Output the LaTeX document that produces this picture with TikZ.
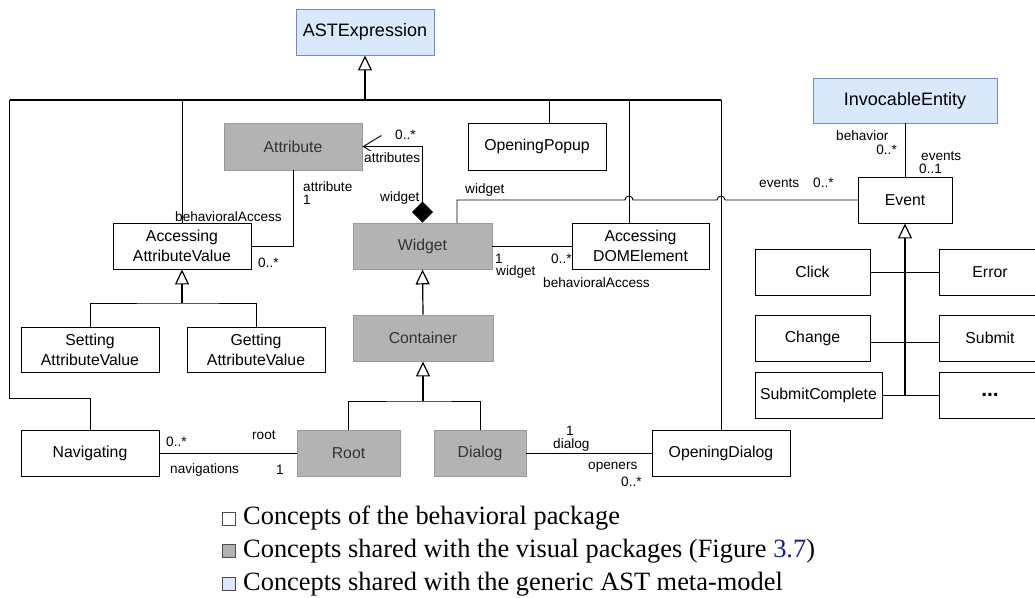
\documentclass[tikz,border=0pt]{standalone}
\usepackage{fontspec}
\setmainfont{Liberation Serif}
\newfontfamily\arialf{Liberation Sans}
\usetikzlibrary{arrows.meta}
\definecolor{bluefill}{HTML}{DAE8FC}
\definecolor{blueline}{HTML}{6C8EBF}
\definecolor{grayfill}{HTML}{B3B3B3}
\definecolor{grayline}{HTML}{999999}
\definecolor{graytext}{HTML}{333333}
\definecolor{linkblue}{HTML}{1A1A8C}
\begin{document}
\begin{tikzpicture}[x=1pt,y=-1pt,
  cls/.style={draw=black, fill=white, line width=0.9pt, inner sep=0pt, align=center,
    font=\arialf\fontsize{15.8}{20}\selectfont, minimum width=138pt, minimum height=46pt},
  shared/.style={cls, fill=grayfill, draw=grayline, text=graytext},
  astcls/.style={cls, fill=bluefill, draw=blueline, font=\arialf\fontsize{18}{21}\selectfont},
  lbl/.style={inner sep=0pt, font=\arialf\fontsize{13.6}{15}\selectfont},
  conn/.style={line width=0.9pt},
  gen/.style={line width=1.2pt, -{Triangle[length=15pt,width=14pt,fill=white,line width=1.2pt]}},
  legbox/.style={minimum size=13pt, inner sep=0pt, line width=0.8pt},
  legtxt/.style={anchor=base west, inner sep=0pt, font=\fontsize{26.4}{30}\selectfont},
]
\useasboundingbox[fill=white] (0,0) rectangle (1035,597);

% ---------- classes ----------
\node[astcls] (ast) at (365,32) {ASTExpression};
\node[astcls, minimum width=184pt, minimum height=45pt] (inv) at (905,100.5) {InvocableEntity};
\node[shared, minimum height=47pt] (attr) at (293,146.5) {Attribute};
\node[cls, minimum height=47pt] (op) at (537,146.5) {OpeningPopup};
\node[cls] (aav) at (182,246) {Accessing\\AttributeValue};
\node[shared, minimum width=139pt] (widget) at (422.5,246) {Widget};
\node[cls, minimum width=137pt] (adom) at (640.5,246) {Accessing\\DOMElement};
\node[cls, minimum width=94pt] (event) at (905,200) {Event};
\node[cls, minimum width=115pt] (click) at (812.5,272) {Click};
\node[cls, minimum width=102pt] (error) at (990,272) {Error};
\node[cls, minimum width=115pt] (change) at (812.5,338) {Change};
\node[cls, minimum width=102pt] (submit) at (990,338) {Submit};
\node[cls, minimum width=127pt] (sc) at (818.5,395) {SubmitComplete};
\node[cls, minimum width=102pt, font=\arialf\bfseries\fontsize{21}{22}\selectfont] (dots) at (990,395) {...};
\node[cls, minimum height=45pt] (set) at (90,349.5) {Setting\\AttributeValue};
\node[cls, minimum height=45pt] (get) at (256,349.5) {Getting\\AttributeValue};
\node[shared, minimum width=140pt] (cont) at (423,338) {Container};
\node[cls] (nav) at (90,453) {Navigating};
\node[shared, minimum width=103pt] (root) at (348.5,453) {Root};
\node[shared, minimum width=92pt] (dlg) at (480,453) {Dialog};
\node[cls] (od) at (721,453) {OpeningDialog};

% ---------- junction points ----------
\coordinate (bL) at (9.5,100);
\coordinate (bR) at (721,100);
\coordinate (bAST) at (365,100);
\coordinate (bAAV) at (182,100);
\coordinate (bOP) at (549,100);
\coordinate (bAD) at (629,100);
\coordinate (bNav) at (9.5,398);
\coordinate (aavbus) at (182,303);
\coordinate (cbus) at (423,401);
\coordinate (wtop) at (457,223);

% ---------- generalization to ASTExpression ----------
\draw[conn, line width=1.1pt] (bL) -- (bR);
\draw[gen] (bAST) -- (ast.south);
\draw[conn] (bL) -- (bNav) -| (nav.north);
\draw[conn] (bAAV) -- (aav.north);
\draw[conn] (bOP) -- (op.north -| bOP);
\draw[conn] (bAD) -- (adom.north -| bAD);
\draw[conn] (bR) -- (od.north);

% ---------- other generalizations ----------
\draw[gen] (aavbus) -- (aav.south);
\draw[conn] (set.north) |- (aavbus) -| (get.north);
\draw[gen] (cont.north) -- (widget.south);
\draw[gen] (cbus) -- (cont.south);
\draw[conn] (root.north) |- (cbus) -| (dlg.north);
\draw[conn] (click.east) -- (error.west);
\draw[conn] ([yshift=-4pt]change.east) -- ([yshift=-4pt]submit.west);
\draw[conn] (sc.east) -- (dots.west);
\draw[gen, line width=1.6pt] (sc.east -| event.south) -- (event.south);

% ---------- associations ----------
\draw[conn, {Diamond[length=21pt,width=21pt]}-{Straight Barb[length=18pt,width=22pt]}]
  (widget.north) |- (attr.east);
\draw[conn] (attr.south) |- (aav.east);
\draw[conn] (widget.east) -- (adom.west);
\draw[conn] (wtop) -- (457,200) -- (625,200) arc[start angle=180,end angle=360,radius=4]
  -- (717,200) arc[start angle=180,end angle=360,radius=4] -- (event.west);
\draw[conn] (inv.south) -- (event.north);
\draw[conn] (nav.east) -- (root.west);
\draw[conn] (dlg.east) -- (od.west);

% ---------- labels ----------
\node[lbl, anchor=west] (l1) at (303,187) {attribute};
\node[lbl, anchor=west] (l2) at (303,199.5) {1};
\node[lbl, anchor=west] (l3) at (175,217) {behavioralAccess};
\node[lbl, anchor=west] (l4) at (258,263) {0..*};
\node[lbl, anchor=west] (l5) at (395,135) {0..*};
\node[lbl, anchor=west, fill=white, inner ysep=2pt] (l6) at (364,158) {attributes};
\node[lbl, anchor=west] (l7) at (380,198) {widget};
\node[lbl, anchor=west] (l8) at (465,190) {widget};
\node[lbl, anchor=west] (l9) at (495,259) {1};
\node[lbl, anchor=west] (l10) at (496,272) {widget};
\node[lbl, anchor=west] (l11) at (551,259) {0..*};
\node[lbl, anchor=west] (l12) at (543,283) {behavioralAccess};
\node[lbl, anchor=west] (l13) at (759,183) {events};
\node[lbl, anchor=west] (l14) at (813,183) {0..*};
\node[lbl, anchor=west] (l15) at (836,136) {behavior};
\node[lbl, anchor=east] (l16) at (897,150) {0..*};
\node[lbl, anchor=west] (l17) at (921,156) {events};
\node[lbl, anchor=west] (l18) at (919,169) {0..1};
\node[lbl, anchor=west] (l19) at (566,431) {1};
\node[lbl, anchor=west] (l20) at (553,445) {dialog};
\node[lbl, anchor=west] (l21) at (588,467) {openers};
\node[lbl, anchor=west] (l22) at (621,482) {0..*};
\node[lbl, anchor=west] (l23) at (166,442) {0..*};
\node[lbl, anchor=west] (l24) at (252,435) {root};
\node[lbl, anchor=west] (l25) at (170,470) {navigations};
\node[lbl, anchor=west] (l26) at (276,470) {1};

% ---------- legend ----------
\node[legbox, draw=black!70, fill=white] (lg1) at (228.5,518.5) {};
\node[legbox, draw=black!70, fill=grayfill] (lg2) at (228.5,551) {};
\node[legbox, draw=black!70, fill=bluefill] (lg3) at (228.5,584) {};
\node[legtxt] (lt1) at (243,524) {Concepts of the behavioral package};
\node[legtxt] (lt2) at (243,557) {Concepts shared with the visual packages (Figure \textcolor{linkblue}{3.7})};
\node[legtxt] (lt3) at (243,590) {Concepts shared with the generic AST meta-model};
\end{tikzpicture}
\end{document}
